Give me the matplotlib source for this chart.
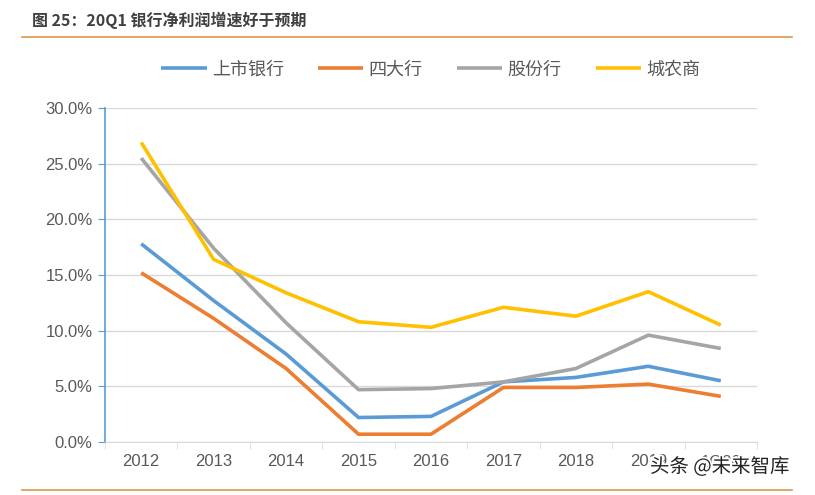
import matplotlib
matplotlib.use('Agg')
import matplotlib.pyplot as plt
import matplotlib.patheffects as pe
import numpy as np

plt.rcParams['font.family'] = ['Noto Sans CJK SC', 'DejaVu Sans']

# du lieu doc tu hinh
nam = ['2012', '2013', '2014', '2015', '2016', '2017', '2018', '2019', '1Q20']
ten_chuoi = ['上市银行', '四大行', '股份行', '城农商']
shang_shi = [17.8, 12.7, 7.9, 2.2, 2.3, 5.4, 5.8, 6.8, 5.5]
si_da = [15.2, 11.1, 6.6, 0.7, 0.7, 4.9, 4.9, 5.2, 4.1]
gu_fen = [25.5, 17.4, 10.7, 4.7, 4.8, 5.4, 6.6, 9.6, 8.4]
cheng_nong = [26.9, 16.4, 13.4, 10.8, 10.3, 12.1, 11.3, 13.5, 10.5]
mau = ['#5B9BD5', '#ED7D31', '#A5A5A5', '#FFC000']

fig = plt.figure(figsize=(8.15, 4.95), dpi=100)
ax = fig.add_axes([105/815, 1-442/495, (757-105)/815, (442-108)/495])

x = np.arange(len(nam))
for ys, ten, c in zip([shang_shi, si_da, gu_fen, cheng_nong], ten_chuoi, mau):
    ax.plot(x, ys, color=c, lw=2.6, label=ten, solid_capstyle='butt')

ax.set_xlim(-0.5, len(nam) - 0.5)
ax.set_ylim(0, 30)
ax.set_yticks(np.arange(0, 31, 5))
ax.set_yticklabels(['%.1f%%' % v for v in np.arange(0, 31, 5)])
ax.set_xticks(x)
ax.set_xticklabels(nam)
ax.set_xticks(np.arange(-0.5, len(nam)), minor=True)
ax.tick_params(axis='x', which='major', length=0, pad=9, labelsize=12, labelcolor='#595959')
ax.tick_params(axis='x', which='minor', length=5, color='#D9D9D9')
ax.tick_params(axis='y', length=5, color='#5B9BD5', labelsize=12, labelcolor='#595959', pad=4)
for t in ax.get_xticklabels() + ax.get_yticklabels():
    t.set_family('Liberation Sans')
ax.grid(axis='y', color='#D9D9D9', lw=1)
ax.set_axisbelow(True)
for s in ['top', 'right']:
    ax.spines[s].set_visible(False)
ax.spines['left'].set_color('#5B9BD5')
ax.spines['left'].set_linewidth(1.2)
ax.spines['bottom'].set_color('#D9D9D9')

leg = ax.legend(loc='center', bbox_to_anchor=(0.5, 1.115), ncol=4, frameon=False,
                fontsize=13, handlelength=2.5, columnspacing=1.9, handletextpad=0.3)
for t in leg.get_texts():
    t.set_color('#595959')

# tieu de va duong ke
fig.text(32/815, 1-20/495, '图 25：20Q1 银行净利润增速好于预期', fontsize=11.5,
         fontweight='bold', color='#404040', va='center')
fig.add_artist(plt.Line2D([22/815, 792/815], [1-37/495, 1-37/495], color='#E0964E', lw=1.2))
fig.add_artist(plt.Line2D([22/815, 792/815], [1-490/495, 1-490/495], color='#E0964E', lw=1.2))

# watermark
fig.text(650/815, 1-467/495, '头条 @未来智库', fontsize=14, color='#222222', va='center',
         path_effects=[pe.withStroke(linewidth=2.5, foreground='white')])

fig.savefig('out.png', dpi=100)
